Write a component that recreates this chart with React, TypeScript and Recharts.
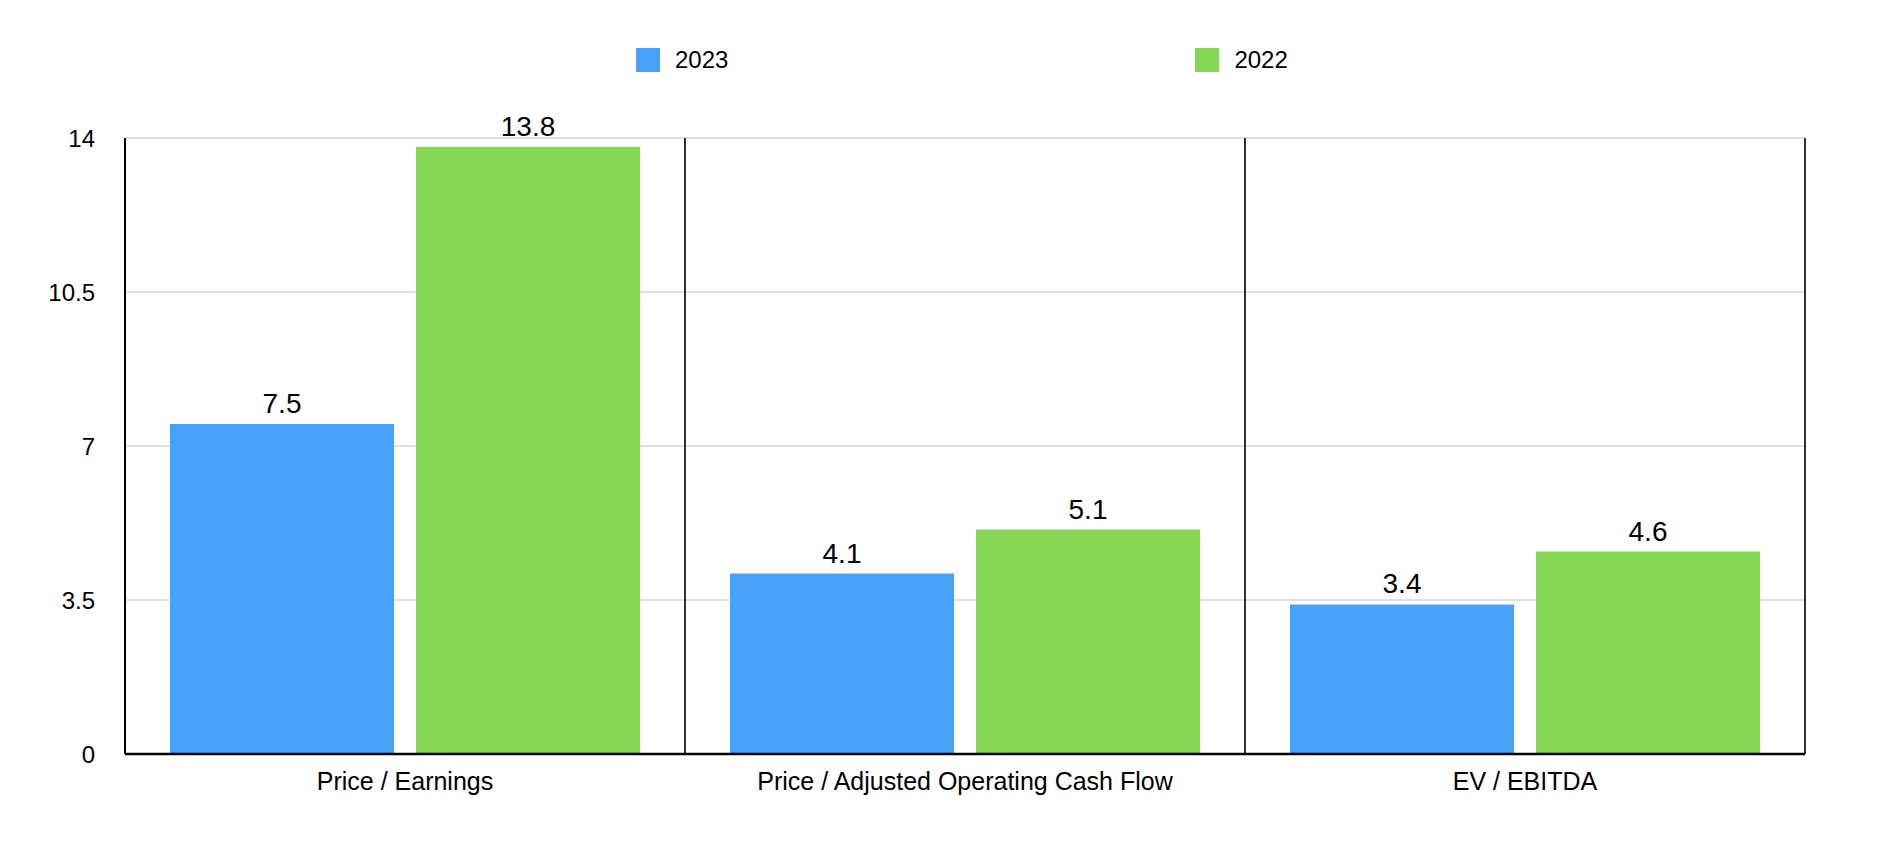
import React from 'react';
import { BarChart, Bar, XAxis, YAxis, CartesianGrid, Legend, LabelList } from 'recharts';

const categories = ['Price / Earnings', 'Price / Adjusted Operating Cash Flow', 'EV / EBITDA'];
const values2023 = [7.5, 4.1, 3.4];
const values2022 = [13.8, 5.1, 4.6];
const yTicks = [0, 3.5, 7, 10.5, 14];
const seriesNames = ['2023', '2022'];
const seriesColors = ['#48A0F8', '#84D654'];

const data = categories.map((name, i) => ({ name, y2023: values2023[i], y2022: values2022[i] }));

const FONT = '"Liberation Sans", Arial, Helvetica, sans-serif';

const separators = (props: any) => {
  const offset = props.offset;
  const n = categories.length;
  const step = offset.width / n;
  return categories.map((_, i) => offset.left + step * (i + 1));
};

const LegendContent = () => {
  return (
    <div style={{ height: 130, boxSizing: 'border-box', paddingTop: 40, paddingLeft: 628, display: 'flex', fontFamily: FONT }}>
      {seriesNames.map((name, i) => (
        <div key={name} style={{ display: 'flex', alignItems: 'center', height: 24, marginRight: i === 0 ? 467 : 0 }}>
          <div style={{ width: 24, height: 24, background: seriesColors[i], marginRight: 15 }} />
          <span style={{ fontSize: 24, color: '#000', lineHeight: '24px' }}>{name}</span>
        </div>
      ))}
    </div>
  );
};

export default function App() {
  return (
    <div style={{ width: 1864, height: 850, fontFamily: FONT, background: '#fff' }}>
      <BarChart
        width={1864}
        height={850}
        data={data}
        margin={{ top: 0, right: 67, bottom: 44, left: 0 }}
        barSize={224}
        barGap={22}
      >
        <Legend
          verticalAlign="top"
          align="left"
          wrapperStyle={{ top: 0, left: 0, width: 1864 }}
          content={<LegendContent />}
        />
        <CartesianGrid vertical={false} horizontal={true} stroke="#c2c2c2" strokeWidth={1.2} />
        <CartesianGrid vertical={true} horizontal={false} stroke="#000" strokeWidth={1.6} verticalCoordinatesGenerator={separators} />
        <XAxis
          dataKey="name"
          type="category"
          height={60}
          axisLine={{ stroke: '#000', strokeWidth: 2.5 }}
          tickLine={false}
          tickSize={6}
          tickMargin={12}
          tick={{ fontSize: 25, fill: '#000' }}
          interval={0}
        />
        <YAxis
          width={117}
          domain={[0, 14]}
          ticks={yTicks}
          axisLine={{ stroke: '#000', strokeWidth: 2 }}
          tickLine={false}
          tickSize={6}
          tickMargin={24}
          tick={{ fontSize: 24, fill: '#000' }}
          interval={0}
        />
        <Bar dataKey="y2023" name={seriesNames[0]} fill={seriesColors[0]} isAnimationActive={false}>
          <LabelList dataKey="y2023" position="top" offset={11} style={{ fontSize: 28, fill: '#000' }} />
        </Bar>
        <Bar dataKey="y2022" name={seriesNames[1]} fill={seriesColors[1]} isAnimationActive={false}>
          <LabelList dataKey="y2022" position="top" offset={11} style={{ fontSize: 28, fill: '#000' }} />
        </Bar>
      </BarChart>
    </div>
  );
}
